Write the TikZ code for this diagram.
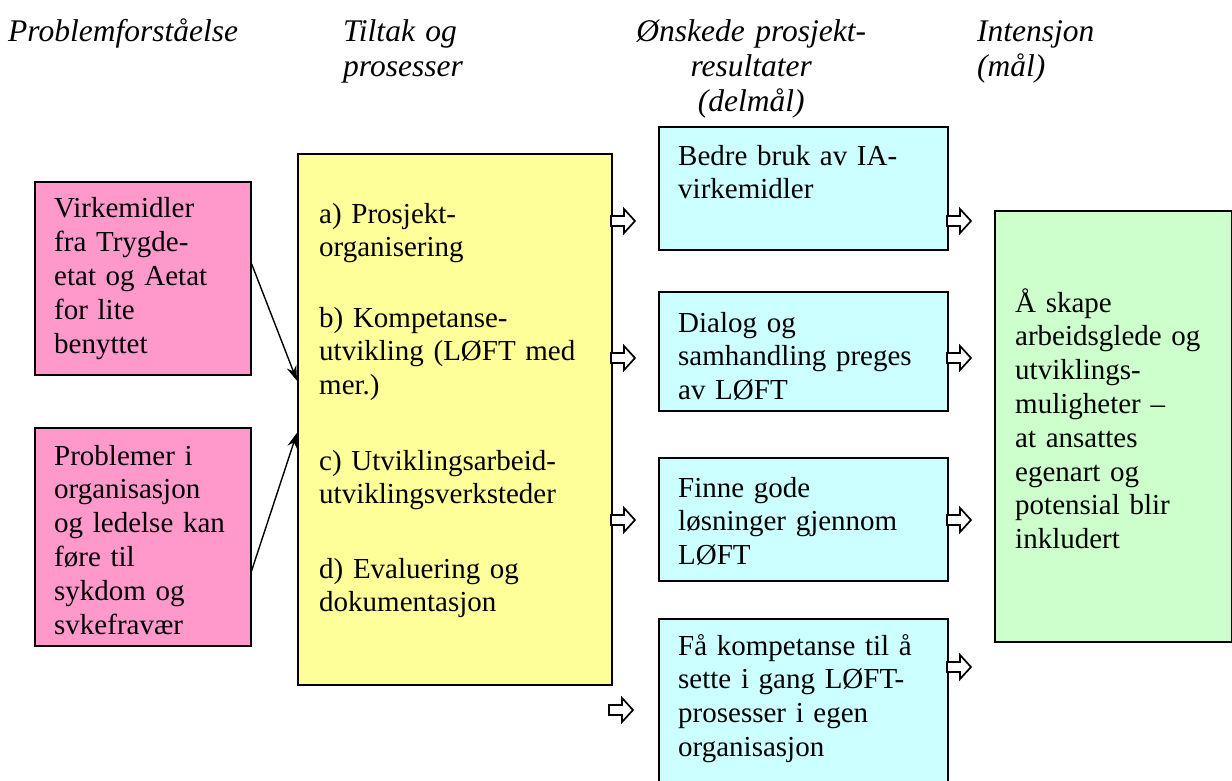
\documentclass[tikz,border=0pt]{standalone}
\usepackage{fontspec}
\setmainfont{Liberation Serif}
\usetikzlibrary{arrows.meta}
\definecolor{pinkc}{HTML}{FF99CC}
\definecolor{yellowc}{HTML}{FFFF99}
\definecolor{cyanc}{HTML}{CCFFFF}
\definecolor{greenc}{HTML}{CCFFCC}
\begin{document}
\begin{tikzpicture}[x=1pt,y=-1pt,
  box/.style={draw=black,line width=1.6pt,anchor=north west,inner sep=0pt},
  txt/.style={anchor=base west,inner sep=0pt,align=left,text width=#1,font=\fontsize{29}{33.8}\selectfont},
  txt/.default=300pt,
  hdr/.style={anchor=base west,inner sep=0pt,align=left,text width=#1,font=\fontsize{31.5}{35}\selectfont\itshape},
  hdr/.default=300pt,
  conn/.style={-{Stealth[length=15pt,width=10pt]},line width=1.4pt},
  barrow/.pic={\draw[fill=white,line width=1.7pt,line join=miter] (0,-5)--(13,-5)--(13,-12)--(24,0)--(13,12)--(13,5)--(0,5)--cycle;}]
\useasboundingbox (0,0) rectangle (1232,781);

% headers
\node[hdr] (h1) at (8,42) {Problemforståelse};
\node[hdr] (h2) at (343,42) {Tiltak og\\prosesser};
\node[hdr=250pt,align=center] (h3) at (626,42) {Ønskede prosjekt-\\resultater\\(delmål)};
\node[hdr] (h4) at (977,42) {Intensjon\\(mål)};

% boxes
\node[box,fill=pinkc,minimum width=216pt,minimum height=193pt] (p1) at (34,181) {};
\node[box,fill=pinkc,minimum width=216pt,minimum height=218pt] (p2) at (34,427) {};
\node[box,fill=yellowc,minimum width=314pt,minimum height=531pt] (y1) at (297,153) {};
\node[box,fill=cyanc,minimum width=289pt,minimum height=123pt] (c1) at (658,126) {};
\node[box,fill=cyanc,minimum width=289pt,minimum height=119pt] (c2) at (658,291) {};
\node[box,fill=cyanc,minimum width=289pt,minimum height=123pt] (c3) at (658,457) {};
\node[box,fill=cyanc,minimum width=289pt,minimum height=182pt] (c4) at (658,618) {};
\node[box,fill=greenc,minimum width=237pt,minimum height=431pt] (g1) at (994,210) {};

% texts
\node[txt=190pt] (tp1) at (54,218) {Virkemidler\\fra Trygde-\\etat og Aetat\\for lite\\benyttet};
\node[txt=190pt] (tp2) at (54,465) {Problemer i\\organisasjon\\og ledelse kan\\føre til\\sykdom og\\svkefravær};
\node[txt=290pt] (ta) at (319,223) {a) Prosjekt-\\organisering};
\node[txt=290pt] (tb) at (319,327) {b) Kompetanse-\\utvikling (LØFT med\\mer.)};
\node[txt=290pt] (tc) at (319,470) {c) Utviklingsarbeid-\\utviklingsverksteder};
\node[txt=290pt] (td) at (319,578) {d) Evaluering og\\dokumentasjon};
\node[txt=270pt] (tc1) at (678,165) {Bedre bruk av IA-\\virkemidler};
\node[txt=270pt] (tc2) at (678,332) {Dialog og\\samhandling preges\\av LØFT};
\node[txt=270pt] (tc3) at (678,497) {Finne gode\\løsninger gjennom\\LØFT};
\node[txt=270pt] (tc4) at (678,655) {Få kompetanse til å\\sette i gang LØFT-\\prosesser i egen\\organisasjon};
\node[txt=215pt] (tg) at (1015,312) {Å skape\\arbeidsglede og\\utviklings-\\muligheter –\\at ansattes\\egenart og\\potensial blir\\inkludert};

% connectors
\draw[conn] ([yshift=14.5pt]p1.east) -- ([yshift=38.5pt]y1.west);
\draw[conn] ([yshift=-34pt]p2.east) -- ([yshift=-13.5pt]y1.west);

% block arrows
\pic at (611,221) {barrow};
\pic at (611,358) {barrow};
\pic at (611,520) {barrow};
\pic at (609,710) {barrow};
\pic at (947,221) {barrow};
\pic at (947,358) {barrow};
\pic at (947,520) {barrow};
\pic at (947,667) {barrow};
\end{tikzpicture}
\end{document}
